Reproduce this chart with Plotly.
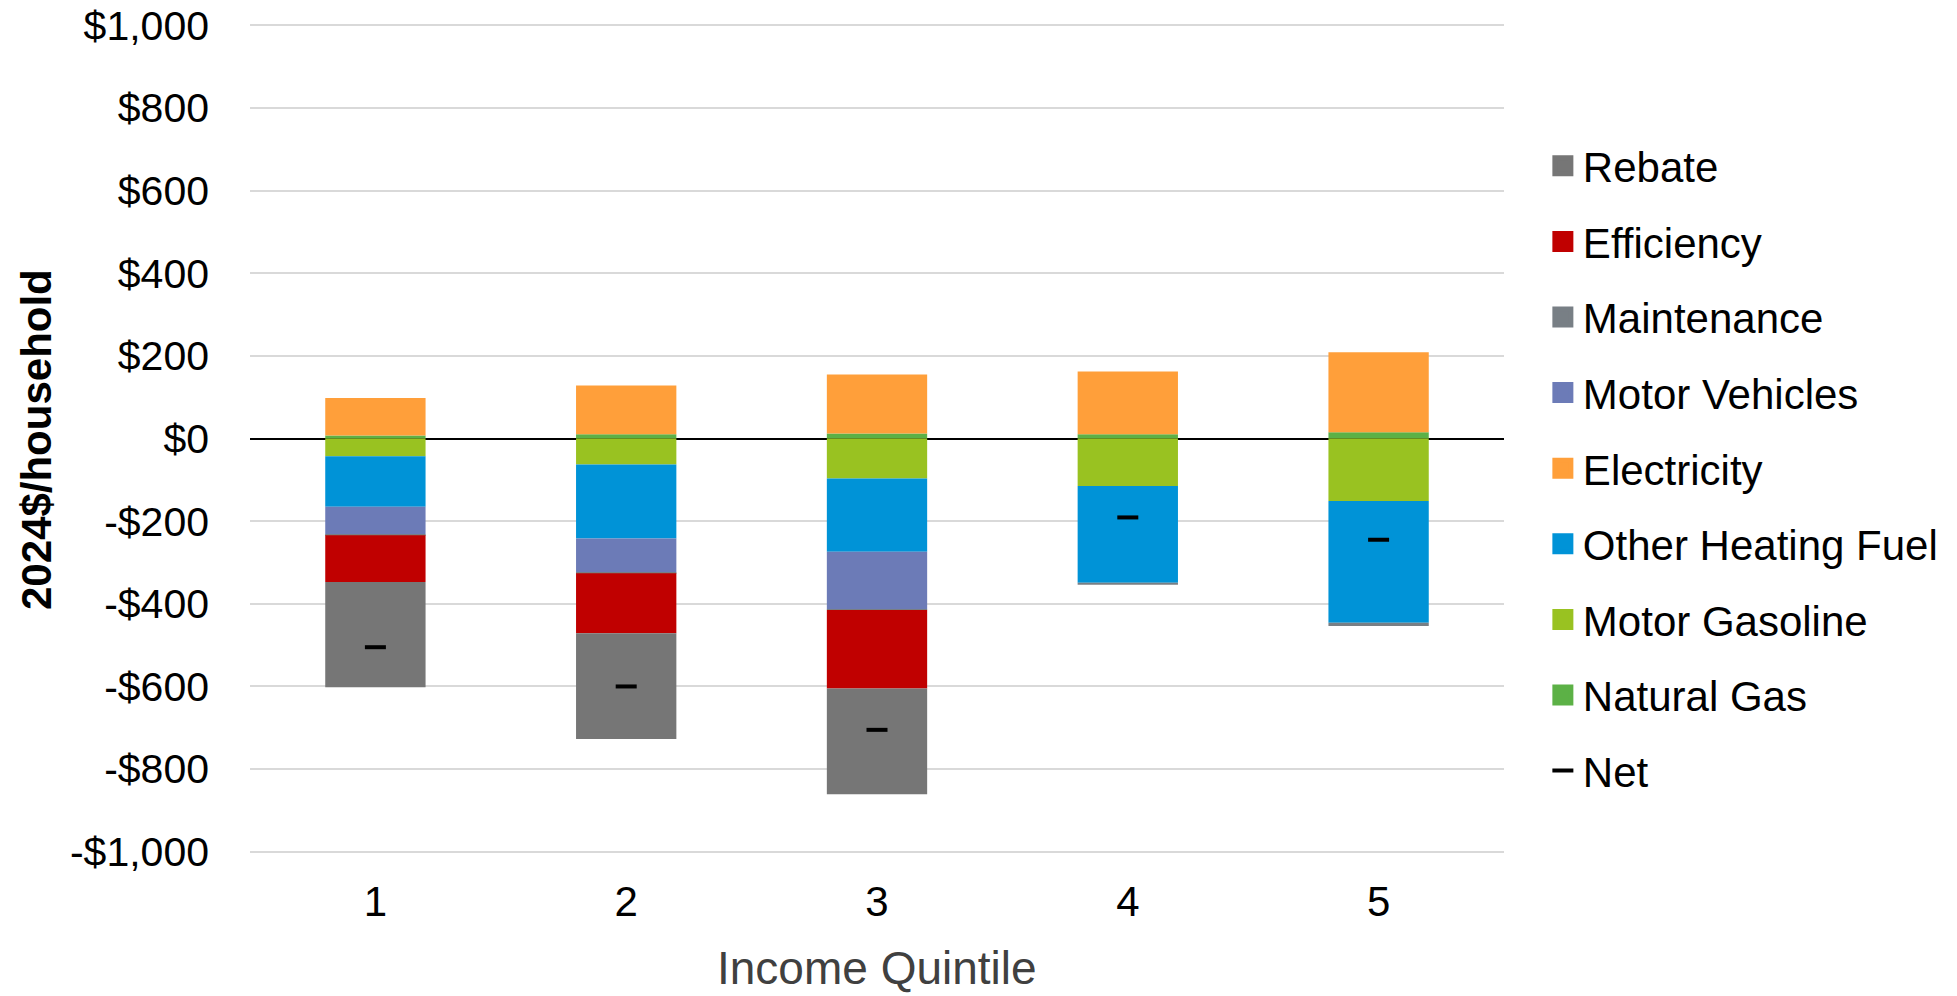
import plotly.graph_objects as go

quintiles = [1, 2, 3, 4, 5]
tick_labels = ["1", "2", "3", "4", "5"]

natural_gas = [7, 10, 12, 10, 15]
motor_gasoline = [-43, -63, -97, -115, -151]
other_heating_fuel = [-122, -179, -177, -234, -295]
electricity = [91, 118, 143, 152, 194]
motor_vehicles = [-67, -82, -139, 0, 0]
maintenance = [-2, -2, -2, -5, -8]
efficiency = [-113, -145, -190, 0, 0]
rebate = [-255, -256, -256, 0, 0]
net = [-505, -600, -705, -191, -245]

yticks = [-1000, -800, -600, -400, -200, 0, 200, 400, 600, 800, 1000]
ytick_text = ["-$1,000", "-$800", "-$600", "-$400", "-$200", "$0",
              "$200", "$400", "$600", "$800", "$1,000"]

series = [
    ("Natural Gas", natural_gas, "#5CB146", 8),
    ("Motor Gasoline", motor_gasoline, "#99C221", 7),
    ("Other Heating Fuel", other_heating_fuel, "#0093D7", 6),
    ("Electricity", electricity, "#FF9F3A", 5),
    ("Motor Vehicles", motor_vehicles, "#6C7BB7", 4),
    ("Maintenance", maintenance, "#787F85", 3),
    ("Efficiency", efficiency, "#C00000", 2),
    ("Rebate", rebate, "#767676", 1),
]

FONT = "Liberation Sans, Arial, sans-serif"
W, H = 1957, 996
ML, MR, MT, MB = 250, 453, 24, 143
pw = W - ML - MR
ph = H - MT - MB

fig = go.Figure()

for name, vals, color, rank in series:
    fig.add_trace(go.Bar(
        x=quintiles, y=vals, name=name, marker=dict(color=color, line=dict(width=0)),
        width=0.4, showlegend=False,
    ))

# legend entries
for name, vals, color, rank in series:
    fig.add_trace(go.Scatter(
        x=[None], y=[None], mode="markers", name=name,
        marker=dict(symbol="square", size=16, color=color, line=dict(width=5, color=color)),
        legendrank=rank, legendgroup=name, showlegend=True,
    ))

fig.add_trace(go.Scatter(
    x=quintiles, y=net, mode="markers", name="Net",
    marker=dict(symbol="line-ew", size=15, line=dict(width=4, color="#000000")),
    legendrank=9, legendgroup="Net",
))

fig.update_layout(
    width=W, height=H,
    margin=dict(l=ML, r=MR, t=MT, b=MB),
    barmode="relative",
    plot_bgcolor="white", paper_bgcolor="white",
    font=dict(family=FONT, color="#000000"),
    showlegend=True,
    legend=dict(
        x=1.031, xanchor="left", y=(H - MB - 132) / ph, yanchor="top",
        font=dict(size=42, family=FONT, color="#000000"),
        traceorder="grouped", tracegroupgap=18,
        bgcolor="rgba(0,0,0,0)", itemsizing="trace",
    ),
    xaxis=dict(
        range=[0.5, 5.5], tickmode="array", tickvals=quintiles, ticktext=tick_labels,
        showgrid=False, zeroline=False, showline=False, ticks="",
        tickfont=dict(size=42, family=FONT, color="#000000"),
        ticklabelstandoff=20, automargin=False,
    ),
    yaxis=dict(
        range=[-1003, 1003], tickmode="array", tickvals=yticks, ticktext=ytick_text,
        showgrid=True, gridcolor="#D9D9D9", gridwidth=1.5,
        zeroline=True, zerolinecolor="#000000", zerolinewidth=2,
        showline=False, ticks="",
        tickfont=dict(size=41, family=FONT, color="#000000"),
        ticklabelstandoff=40, automargin=False,
    ),
    annotations=[
        dict(text="Income Quintile", x=0.5, xref="paper", xanchor="center",
             y=(H - MB - 968) / ph, yref="paper", yanchor="middle",
             showarrow=False, font=dict(size=46, family=FONT, color="#404040")),
        dict(text="<b>2024$/household</b>", textangle=-90,
             x=(36 - ML) / pw, xref="paper", xanchor="center",
             y=(H - MB - 440) / ph, yref="paper", yanchor="middle",
             showarrow=False, font=dict(size=42, family=FONT, color="#000000")),
    ],
)

fig.write_html("out.html")
